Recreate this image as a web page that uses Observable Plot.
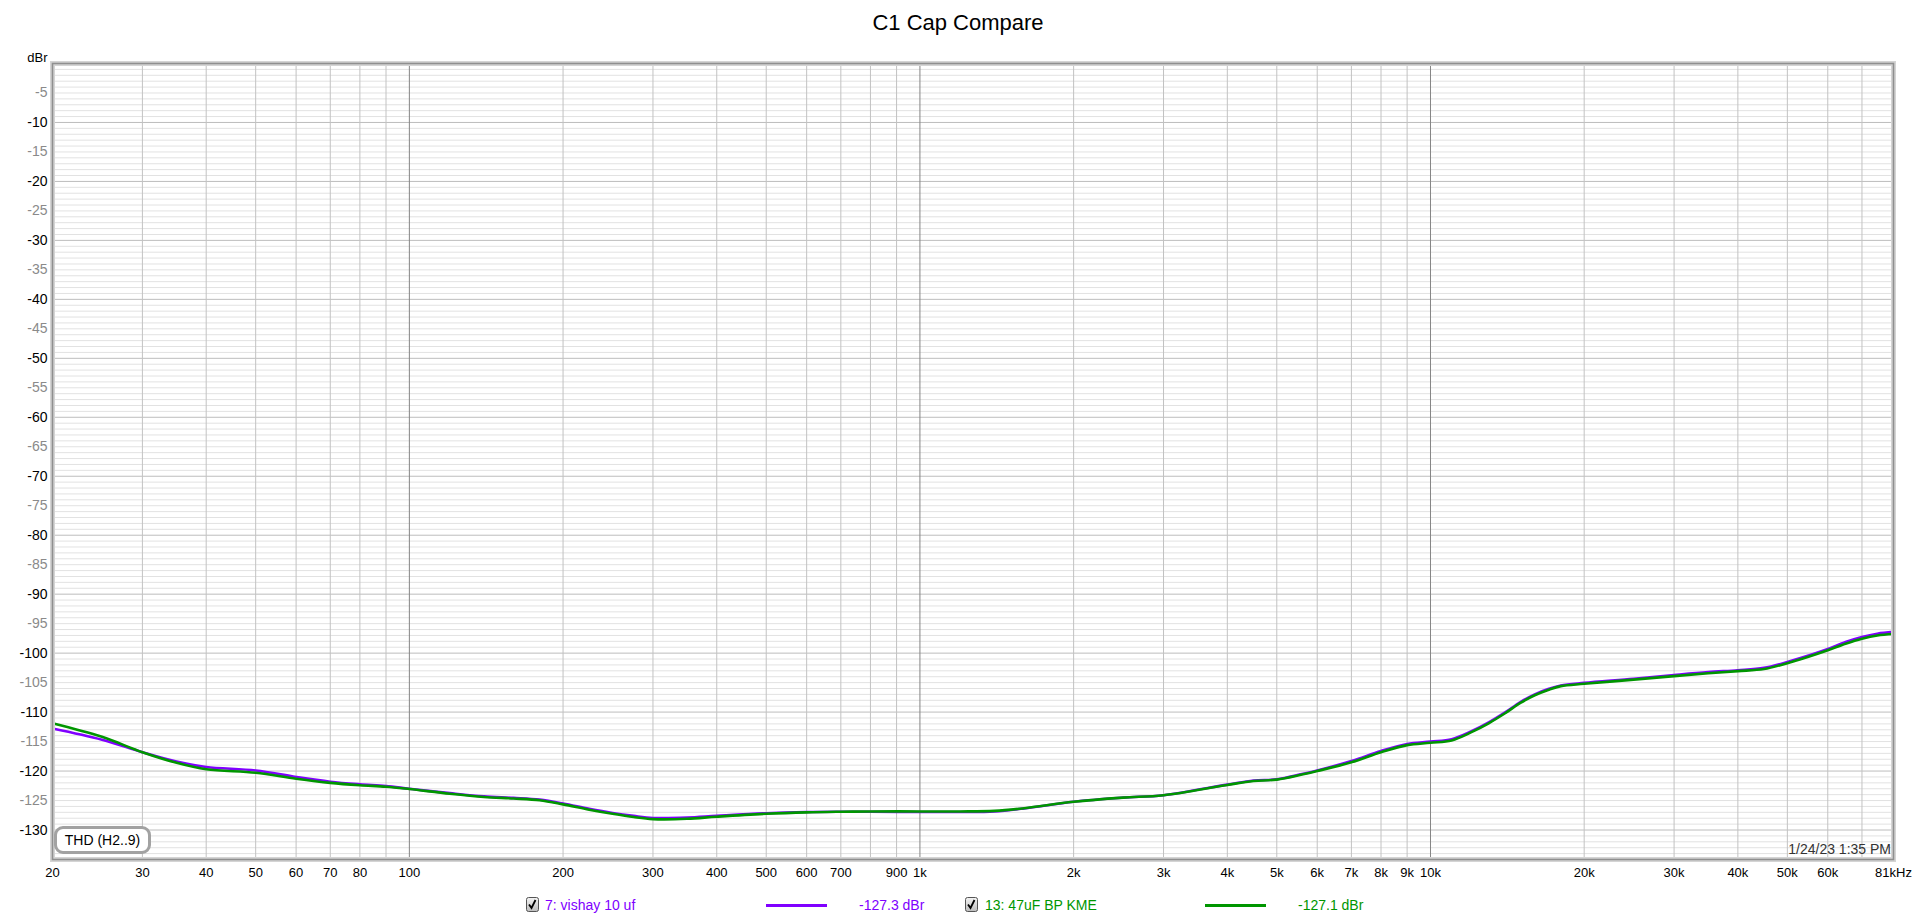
<!DOCTYPE html>
<html>
<head>
<meta charset="utf-8">
<script src="https://cdn.jsdelivr.net/npm/d3@7"></script>
<script src="https://cdn.jsdelivr.net/npm/@observablehq/plot@0.6"></script>
<style>
  body { margin: 0; background: #fff; font-family: "Liberation Sans", Arial, sans-serif; }
  #wrap { position: relative; width: 1920px; height: 921px; overflow: hidden; background: #fff; }
  #title { position: absolute; left: 0; top: 10px; width: 1916px; text-align: center; font-size: 22px; line-height: 26px; color: #000; }
  #chart { position: absolute; left: 0; top: 44px; }
  #thd { position: absolute; left: 54px; top: 826px; width: 97px; height: 28px; box-sizing: border-box; border: 3px solid #a2a2a2; border-radius: 9px; background: #fff; font-size: 14px; line-height: 22px; text-align: center; color: #000; }
  #stamp { position: absolute; right: 29px; top: 841px; font-size: 14px; line-height: 16px; color: #333; }
  .lg { position: absolute; top: 897px; font-size: 14px; line-height: 16px; white-space: nowrap; }
  .sw { position: absolute; top: 904px; height: 2.6px; }
  .cb { position: absolute; top: 897px; }
</style>
</head>
<body>
<div id="wrap">
  <div id="title">C1 Cap Compare</div>
  <div id="chart"></div>
  <div id="thd">THD (H2..9)</div>
  <div id="stamp">1/24/23 1:35 PM</div>
</div>
<script>
// ---- data ----
const freq = [20, 25, 30, 35, 40, 50, 60, 70, 80, 90, 100, 120, 140, 160, 180, 200, 225, 250, 275, 300, 350, 400, 500, 600, 700, 800, 1000, 1200, 1400, 1600, 2000, 2500, 3000, 4000, 4500, 5000, 5600, 6000, 7000, 8000, 9000, 10000, 11000, 12000, 13000, 14000, 15000, 16000, 17000, 18000, 20000, 25000, 30000, 35000, 40000, 45000, 50000, 55000, 60000, 65000, 70000, 75000, 80700];
const vishay = [-112.8, -114.7, -116.8, -118.4, -119.3, -119.9, -121.0, -121.8, -122.25, -122.55, -123.0, -123.75, -124.3, -124.55, -124.85, -125.5, -126.4, -127.1, -127.6, -127.95, -127.9, -127.6, -127.15, -126.95, -126.9, -126.9, -126.95, -126.95, -126.85, -126.35, -125.2, -124.5, -124.1, -122.3, -121.6, -121.4, -120.5, -119.9, -118.3, -116.6, -115.4, -115.0, -114.6, -113.3, -111.75, -110.05, -108.3, -107.0, -106.1, -105.5, -105.05, -104.35, -103.7, -103.2, -102.9, -102.5, -101.5, -100.4, -99.3, -98.1, -97.25, -96.7, -96.4];
const kme = [-111.9, -114.2, -116.8, -118.6, -119.7, -120.3, -121.3, -122.0, -122.4, -122.65, -123.05, -123.85, -124.4, -124.65, -124.95, -125.65, -126.55, -127.25, -127.8, -128.15, -128.1, -127.75, -127.25, -127.0, -126.9, -126.85, -126.85, -126.85, -126.75, -126.3, -125.2, -124.5, -124.1, -122.35, -121.7, -121.45, -120.6, -120.0, -118.5, -116.8, -115.6, -115.2, -114.8, -113.45, -111.9, -110.2, -108.45, -107.15, -106.25, -105.6, -105.2, -104.5, -103.9, -103.4, -103.05, -102.7, -101.7, -100.6, -99.5, -98.4, -97.55, -97.0, -96.75];

const seriesNames = ["7: vishay 10 uf", "13: 47uF BP KME"];
const seriesColors = ["#8000ff", "#009600"];
const cursorValues = ["-127.3 dBr", "-127.1 dBr"];

const xTickValues = [20, 30, 40, 50, 60, 70, 80, 100, 200, 300, 400, 500, 600, 700, 900, 1000, 2000, 3000, 4000, 5000, 6000, 7000, 8000, 9000, 10000, 20000, 30000, 40000, 50000, 60000, 80700];
const xTickLabels = ["20", "30", "40", "50", "60", "70", "80", "100", "200", "300", "400", "500", "600", "700", "900", "1k", "2k", "3k", "4k", "5k", "6k", "7k", "8k", "9k", "10k", "20k", "30k", "40k", "50k", "60k", "81kHz"];
const xGrid = [20, 30, 40, 50, 60, 70, 80, 90, 200, 300, 400, 500, 600, 700, 800, 900, 2000, 3000, 4000, 5000, 6000, 7000, 8000, 9000, 20000, 30000, 40000, 50000, 60000, 70000, 80000];
const xDecades = [100, 1000, 10000];
const yLabelsMajor = [-10, -20, -30, -40, -50, -60, -70, -80, -90, -100, -110, -120, -130];
const yLabelsMinor = [-5, -15, -25, -35, -45, -55, -65, -75, -85, -95, -105, -115, -125];
const yGridMinor = d3.range(-134, 0, 1).filter(d => d % 10 !== 0);
const yGridMajor = [-130, -120, -110, -100, -90, -80, -70, -60, -50, -40, -30, -20, -10];

// ---- chart ----
const chart = Plot.plot({
  width: 1920,
  height: 846,
  marginTop: 19,
  marginBottom: 31,
  marginLeft: 52,
  marginRight: 27,
  style: { fontFamily: "Liberation Sans, Arial, sans-serif", fontSize: "13px", background: "white", color: "#000", overflow: "visible" },
  x: { type: "log", domain: [20, 80700], axis: null },
  y: { domain: [-135, 0], axis: null },
  marks: [
    Plot.ruleY(yGridMinor, { stroke: "#e2e2e2", strokeWidth: 1 }),
    Plot.ruleY(yGridMajor, { stroke: "#bdbdbd", strokeWidth: 1 }),
    Plot.ruleX(xGrid, { stroke: "#c2c2c2", strokeWidth: 1 }),
    Plot.ruleX(xDecades, { stroke: "#858585", strokeWidth: 1 }),
    Plot.line(freq, { x: d => d, y: (d, i) => vishay[i], stroke: seriesColors[0], strokeWidth: 2.6, curve: "catmull-rom" }),
    Plot.line(freq, { x: d => d, y: (d, i) => kme[i], stroke: seriesColors[1], strokeWidth: 2.6, curve: "catmull-rom" }),
    Plot.frame({ stroke: "#d4d4d4", strokeWidth: 5 }),
    Plot.frame({ stroke: "#8f8f8f", strokeWidth: 1.6 }),
    Plot.text(yLabelsMajor, { y: d => d, text: d => String(d), frameAnchor: "left", textAnchor: "end", dx: -5, fill: "#000", fontSize: 14 }),
    Plot.text(yLabelsMinor, { y: d => d, text: d => String(d), frameAnchor: "left", textAnchor: "end", dx: -5, fill: "#8a8a8a", fontSize: 14 }),
    Plot.text(xTickValues, { x: d => d, text: (d, i) => xTickLabels[i], frameAnchor: "bottom", lineAnchor: "top", dy: 8, fill: "#000", fontSize: 13 }),
    Plot.text(["dBr"], { frameAnchor: "top-left", textAnchor: "end", dx: -5, dy: -11, fill: "#000", fontSize: 13 })
  ]
});
document.getElementById("chart").appendChild(chart);

// ---- legend ----
const wrap = document.getElementById("wrap");
const lgPos = [
  { cb: 526, name: 545, sw: 766, val: 859 },
  { cb: 965, name: 985, sw: 1205, val: 1298 }
];
seriesNames.forEach((name, i) => {
  const p = lgPos[i];
  const cb = document.createElement("div");
  cb.className = "cb";
  cb.style.left = p.cb + "px";
  cb.innerHTML = '<svg width="13" height="15"><defs><linearGradient id="g' + i + '" x1="0" y1="0" x2="0" y2="1"><stop offset="0" stop-color="#f4f4f4"/><stop offset="1" stop-color="#bcbcbc"/></linearGradient></defs>' +
    '<rect x="0.5" y="0.5" width="12" height="14" rx="2" fill="url(#g' + i + ')" stroke="#555"/>' +
    '<path d="M3 7.5 L5.5 11 L9.5 3" fill="none" stroke="#000" stroke-width="1.8"/></svg>';
  wrap.appendChild(cb);
  const t = document.createElement("div");
  t.className = "lg";
  t.style.left = p.name + "px";
  t.style.color = seriesColors[i];
  t.textContent = name;
  wrap.appendChild(t);
  const s = document.createElement("div");
  s.className = "sw";
  s.style.left = p.sw + "px";
  s.style.width = "61px";
  s.style.background = seriesColors[i];
  wrap.appendChild(s);
  const v = document.createElement("div");
  v.className = "lg";
  v.style.left = p.val + "px";
  v.style.color = seriesColors[i];
  v.textContent = cursorValues[i];
  wrap.appendChild(v);
});
</script>
</body>
</html>
